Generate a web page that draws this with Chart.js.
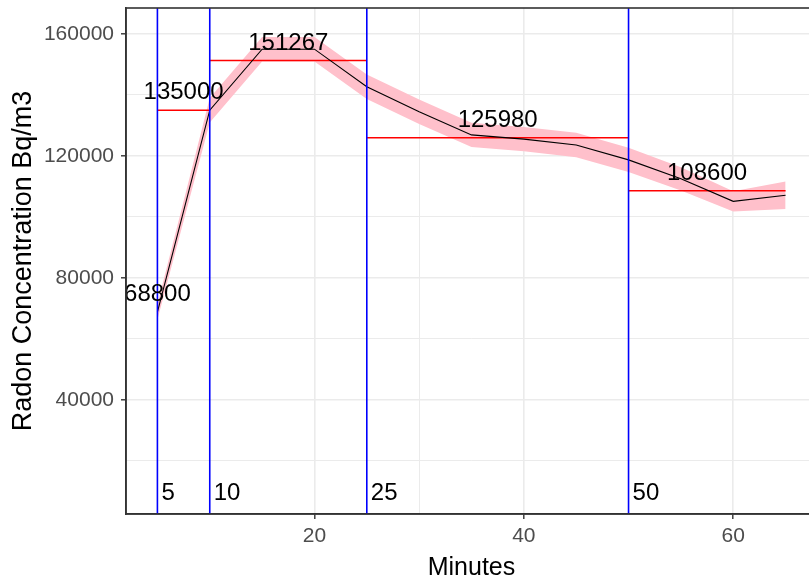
<!DOCTYPE html>
<html>
<head>
<meta charset="utf-8">
<script src="https://cdn.jsdelivr.net/npm/chart.js@4"></script>
<style>
  html, body { margin: 0; padding: 0; background: #fff; overflow: hidden; }
</style>
</head>
<body>
<canvas id="chart" width="830" height="580"></canvas>
<script>
// measured radon concentration (black line)
const minutes = [5, 10, 15, 20, 25, 30, 35, 40, 45, 50, 55, 60, 65];
const radon = [68800, 135000, 155000, 155000, 142700, 134500, 126900, 125500, 123600, 118700, 112500, 105100, 107100];
// pink band around the line
const bandLow = [66300, 131000, 151000, 151000, 138700, 130500, 122900, 121500, 119600, 114700, 108700, 101800, 102600];
const bandHigh = [71300, 139000, 159000, 159000, 146700, 138500, 130900, 129500, 127600, 122700, 116300, 108400, 111600];

// red interval levels
const segStart = [5, 10, 25, 50];
const segEnd = [10, 25, 50, 65];
const segValue = [135000, 151267, 125980, 108600];

// value labels
const labelX = [5, 7.5, 17.5, 37.5, 57.5];
const labelValue = [68800, 135000, 151267, 125980, 108600];

// blue sampling marks
const markMinutes = [5, 10, 25, 50];
const markLabelY = 9500;

// axes
const xMajor = [20, 40, 60];
const xMinor = [10, 30, 50];
const yMajor = [40000, 80000, 120000, 160000];
const yMinor = [20000, 60000, 100000, 140000];

const FONT = "'Liberation Sans', Arial, sans-serif";

const pts = (xs, ys) => xs.map((x, i) => ({ x: x, y: ys[i] }));

const datasets = [
  {
    label: "radon",
    data: pts(minutes, radon),
    borderColor: "#000000",
    borderWidth: 1.1,
    pointRadius: 0,
    fill: false,
    order: 0,
  },
];
segValue.forEach((v, i) => {
  datasets.push({
    label: "level " + v,
    data: [{ x: segStart[i], y: v }, { x: segEnd[i], y: v }],
    borderColor: "#FF0000",
    borderWidth: 1.6,
    pointRadius: 0,
    fill: false,
    order: 1,
  });
});
datasets.push({
  label: "band high",
  data: pts(minutes, bandHigh),
  borderWidth: 0,
  borderColor: "rgba(0,0,0,0)",
  backgroundColor: "#FFC0CB",
  pointRadius: 0,
  fill: "+1",
  order: 2,
});
datasets.push({
  label: "band low",
  data: pts(minutes, bandLow),
  borderWidth: 0,
  borderColor: "rgba(0,0,0,0)",
  pointRadius: 0,
  fill: false,
  order: 2,
});

const overlay = {
  id: "overlay",
  afterDatasetsDraw(chart) {
    const ctx = chart.ctx;
    const xs = chart.scales.x;
    const ys = chart.scales.y;
    const area = chart.chartArea;
    ctx.save();
    // blue vertical lines
    ctx.strokeStyle = "#0000FF";
    ctx.lineWidth = 1.6;
    markMinutes.forEach((m) => {
      const px = xs.getPixelForValue(m);
      ctx.beginPath();
      ctx.moveTo(px, area.top);
      ctx.lineTo(px, area.bottom);
      ctx.stroke();
    });
    // texts
    ctx.fillStyle = "#000000";
    ctx.font = "24px " + FONT;
    ctx.textAlign = "left";
    ctx.textBaseline = "middle";
    markMinutes.forEach((m) => {
      ctx.fillText(String(m), xs.getPixelForValue(m) + 4, ys.getPixelForValue(markLabelY));
    });
    ctx.beginPath();
    ctx.rect(area.left, area.top, area.right - area.left, area.bottom - area.top);
    ctx.clip();
    ctx.textAlign = "center";
    ctx.textBaseline = "alphabetic";
    labelValue.forEach((v, i) => {
      ctx.fillText(String(v), xs.getPixelForValue(labelX[i]), ys.getPixelForValue(v) - 11);
    });
    ctx.restore();
  },
  afterDraw(chart) {
    const ctx = chart.ctx;
    const a = chart.chartArea;
    ctx.save();
    ctx.strokeStyle = "#333333";
    ctx.lineWidth = 1.6;
    ctx.strokeRect(a.left, a.top, a.right - a.left, a.bottom - a.top);
    ctx.restore();
  },
};

const gridColor = "#EBEBEB";

const config = {
  type: "line",
  data: { datasets: datasets },
  options: {
    responsive: false,
    animation: false,
    devicePixelRatio: 1,
    layout: { padding: { top: 8, right: 13, left: 0, bottom: 0 } },
    plugins: { legend: { display: false }, tooltip: { enabled: false } },
    scales: {
      x: {
        type: "linear",
        min: 2,
        max: 68,
        afterBuildTicks: (s) => {
          s.ticks = xMinor.concat(xMajor).sort((a, b) => a - b).map((v) => ({ value: v }));
        },
        afterFit: (s) => {
          s.height = 66;
          s.paddingLeft = 0;
          s.paddingRight = 0;
        },
        ticks: {
          color: "#4D4D4D",
          font: { family: FONT, size: 21 },
          padding: 5,
          maxRotation: 0,
          autoSkip: false,
          callback: (v) => (xMajor.includes(v) ? String(v) : ""),
        },
        grid: {
          color: gridColor,
          lineWidth: (c) => (c.tick && xMajor.includes(c.tick.value) ? 1.6 : 1),
          tickColor: (c) => (c.tick && xMajor.includes(c.tick.value) ? "#333333" : "rgba(0,0,0,0)"),
          tickLength: 5,
          tickWidth: 1.4,
        },
        border: { color: "#333333", width: 1.6 },
        title: {
          display: true,
          text: "Minutes",
          color: "#000000",
          font: { family: FONT, size: 25 },
          padding: { top: 0, bottom: -3 },
        },
      },
      y: {
        type: "linear",
        min: 2600,
        max: 168500,
        afterBuildTicks: (s) => {
          s.ticks = yMinor.concat(yMajor).sort((a, b) => a - b).map((v) => ({ value: v }));
        },
        afterFit: (s) => {
          s.width = 126;
          s.paddingTop = 0;
          s.paddingBottom = 0;
        },
        ticks: {
          color: "#4D4D4D",
          font: { family: FONT, size: 21 },
          padding: 7,
          autoSkip: false,
          callback: (v) => (yMajor.includes(v) ? String(v) : ""),
        },
        grid: {
          color: gridColor,
          lineWidth: (c) => (c.tick && yMajor.includes(c.tick.value) ? 1.6 : 1),
          tickColor: (c) => (c.tick && yMajor.includes(c.tick.value) ? "#333333" : "rgba(0,0,0,0)"),
          tickLength: 5,
          tickWidth: 1.4,
        },
        border: { color: "#333333", width: 1.6 },
        title: {
          display: true,
          text: "Radon Concentration Bq/m3",
          color: "#000000",
          font: { family: FONT, size: 27 },
          padding: { top: 7, bottom: 0 },
        },
      },
    },
  },
  plugins: [overlay],
};

let chart = new Chart(document.getElementById("chart"), config);
</script>
</body>
</html>
